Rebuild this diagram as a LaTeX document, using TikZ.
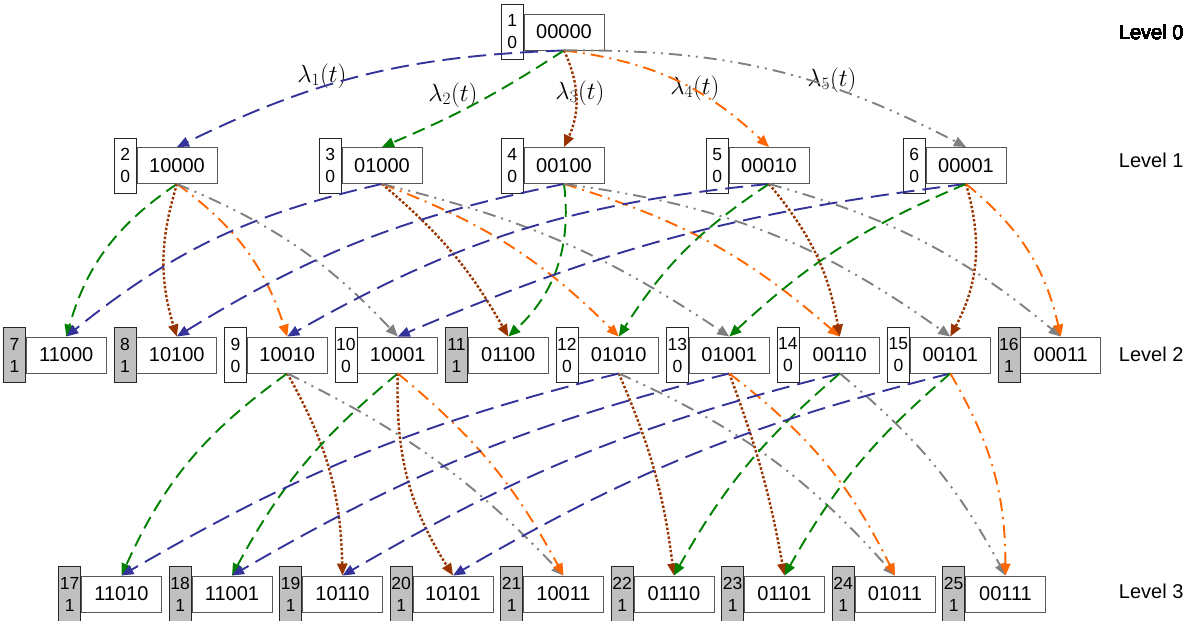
\documentclass[tikz,border=0pt]{standalone}
\usepackage{fontspec}
\setmainfont{Liberation Sans}
\usepackage{tikz}
\usetikzlibrary{positioning,arrows.meta}
\definecolor{lamblue}{HTML}{333399}
\definecolor{lamgreen}{HTML}{008000}
\definecolor{lambrown}{HTML}{993300}
\definecolor{lamorange}{HTML}{FF6600}
\definecolor{lamgray}{HTML}{808080}
\definecolor{tagfill0}{HTML}{FFFFFF}
\definecolor{tagfill1}{HTML}{C0C0C0}
\begin{document}
\begin{tikzpicture}[x=1pt,y=-1pt,>={Triangle[length=12pt,width=10pt]},
  bits/.style={draw=black!65,line width=0.9pt,fill=white,minimum width=80pt,minimum height=36pt,
    inner sep=0pt,font=\fontsize{20}{22}\selectfont},
  tag/.style={draw=black!85,line width=0.8pt,minimum width=22pt,minimum height=55pt,inner sep=0pt,
    align=center,font=\fontsize{17.5}{22}\selectfont},
  lvl/.style={anchor=east,font=\fontsize{20}{24}\selectfont},
  rate/.style={font=\fontsize{26}{30}\selectfont},
  edge/.style={->,line width=1.9pt},
  la1/.style={edge,color=lamblue,dash pattern=on 18pt off 8pt},
  la2/.style={edge,color=lamgreen,dash pattern=on 13pt off 7pt},
  la3/.style={edge,color=lambrown,line width=2.4pt,dash pattern=on 2.5pt off 2pt},
  la4/.style={edge,color=lamorange,dash pattern=on 13pt off 6pt on 2pt off 6pt},
  la5/.style={edge,color=lamgray,dash pattern=on 13pt off 6pt on 2pt off 6pt on 2pt off 6pt}]
\useasboundingbox (0,0) rectangle (1192,621);
% state: bit string box with its index/flag tag on the left
\def\state#1#2#3#4#5{\node[bits] (b#1) at (#2,#3) {#1};
  \node[tag,fill=tagfill#5,left=0pt of b#1] (t#1) {#4\\#5};}
% level 0 and level 1
\state{00000}{564}{32}{1}{0}
\state{10000}{177}{165.5}{2}{0}
\state{01000}{382}{165.5}{3}{0}
\state{00100}{564}{165.5}{4}{0}
\state{00010}{769}{165.5}{5}{0}
\state{00001}{966}{165.5}{6}{0}
% level 2
\foreach \bits/\idx/\flag [count=\i from 0] in {11000/7/1,10100/8/1,10010/9/0,10001/10/0,01100/11/1,
    01010/12/0,01001/13/0,00110/14/0,00101/15/0,00011/16/1}
  \state{\bits}{66.3+110.5*\i}{355}{\idx}{\flag}
% level 3 (all absorbing)
\foreach \bits/\idx [count=\i from 0] in {11010/17,11001/18,10110/19,10101/20,10011/21,
    01110/22,01101/23,01011/24,00111/25}
  \state{\bits}{121.5+110.5*\i}{594}{\idx}{1}
% level names
\node[lvl] (lv0) at (1187,32) {Level 0};
\node[lvl] (lv1) at (1187,160) {Level 1};
\node[lvl] (lv2) at (1187,354) {Level 2};
\node[lvl] (lv3) at (1187,591) {Level 3};
% rates
\node[rate] (r1) at (322,76) {$\lambda_1(t)$};
\node[rate] (r2) at (453,95) {$\lambda_2(t)$};
\node[rate] (r3) at (580,93) {$\lambda_3(t)$};
\node[rate] (r4) at (695,88) {$\lambda_4(t)$};
\node[rate] (r5) at (832,80) {$\lambda_5(t)$};
% level 0 -> level 1 (signed bend: + left, - right)
\foreach \dst/\sty/\ang in {10000/la1/-12,01000/la2/5,00100/la3/25,00010/la4/18,00001/la5/14}
  \draw[\sty] (b00000.south) to[bend left=\ang] (b\dst.north);
% level 1 -> level 2
\foreach \src/\dst/\sty/\ang in {10000/11000/la2/-20,10000/10100/la3/-17,10000/10010/la4/18,10000/10001/la5/12,
    01000/11000/la1/-13,01000/01100/la3/10,01000/01010/la4/12,01000/01001/la5/10,
    00100/10100/la1/-10,00100/01100/la2/27,00100/00110/la4/12,00100/00101/la5/14,
    00010/10010/la1/-12,00010/01010/la2/-12,00010/00110/la3/15,00010/00011/la5/12,
    00001/10001/la1/-8,00001/01001/la2/-10,00001/00101/la3/22,00001/00011/la4/19}
  \draw[\sty] (b\src.south) to[bend left=\ang] (b\dst.north);
% level 2 -> level 3
\foreach \src/\dst/\sty/\ang in {10010/11010/la2/-15,10010/10110/la3/14,10010/10011/la5/10,
    10001/11001/la2/-11,10001/10101/la3/-17,10001/10011/la4/11,
    01010/11010/la1/-8,01010/01110/la3/8,01010/01011/la5/12,
    01001/11001/la1/-8,01001/01101/la3/5,01001/01011/la4/13,
    00110/10110/la1/-8,00110/01110/la2/-10,00110/00111/la5/11,
    00101/10101/la1/-8,00101/01101/la2/-10,00101/00111/la4/15}
  \draw[\sty] (b\src.south) to[bend left=\ang] (b\dst.north);
\end{tikzpicture}
\end{document}
